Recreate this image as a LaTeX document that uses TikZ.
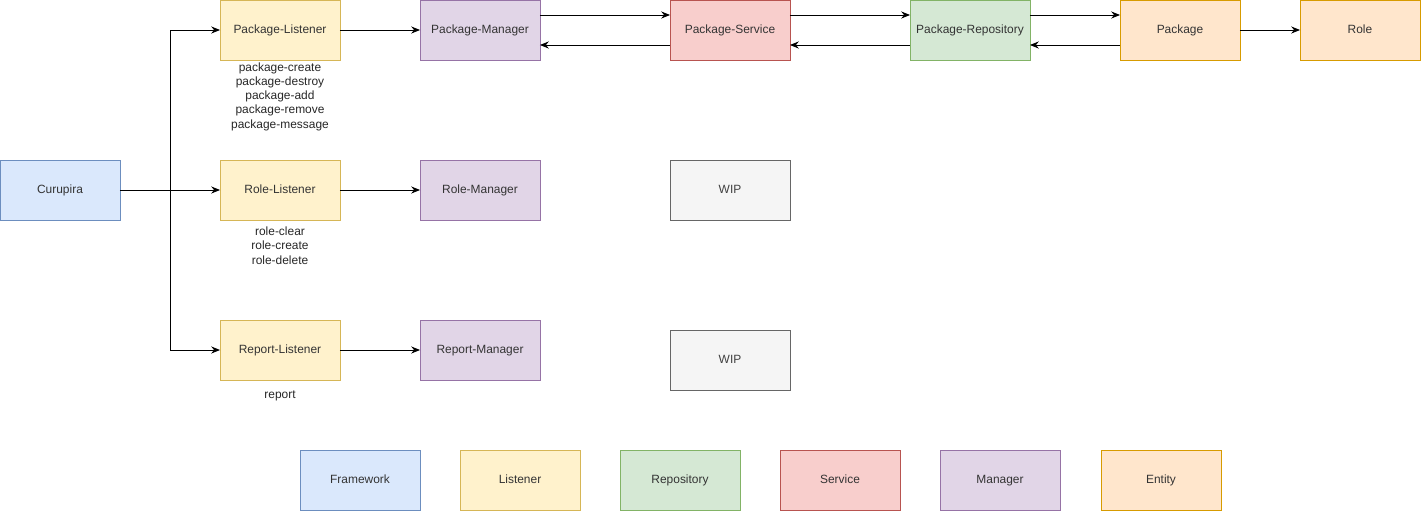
\documentclass[tikz,border=0pt]{standalone}
\usepackage{fontspec}
\setmainfont{Liberation Sans}
\usetikzlibrary{arrows.meta}

\definecolor{fwfill}{HTML}{DAE8FC}\definecolor{fwdraw}{HTML}{6C8EBF}
\definecolor{lsfill}{HTML}{FFF2CC}\definecolor{lsdraw}{HTML}{D6B656}
\definecolor{rpfill}{HTML}{D5E8D4}\definecolor{rpdraw}{HTML}{82B366}
\definecolor{svfill}{HTML}{F8CECC}\definecolor{svdraw}{HTML}{B85450}
\definecolor{mgfill}{HTML}{E1D5E7}\definecolor{mgdraw}{HTML}{9673A6}
\definecolor{enfill}{HTML}{FFE6CC}\definecolor{endraw}{HTML}{D79B00}
\definecolor{wpfill}{HTML}{F5F5F5}\definecolor{wpdraw}{HTML}{666666}

\tikzset{
    box/.style={draw, minimum width=2.4cm, minimum height=1.2cm, inner sep=0pt, outer sep=0pt,
        text height=1.6ex, text depth=0.8ex,
        font=\fontsize{6.8}{8}\selectfont, text=black!80},
    framework/.style={box, fill=fwfill, draw=fwdraw},
    listener/.style={box, fill=lsfill, draw=lsdraw},
    repository/.style={box, fill=rpfill, draw=rpdraw},
    service/.style={box, fill=svfill, draw=svdraw},
    manager/.style={box, fill=mgfill, draw=mgdraw},
    entity/.style={box, fill=enfill, draw=endraw},
    wip/.style={box, fill=wpfill, draw=wpdraw, text=black!75},
    events/.style={align=center, inner sep=0pt, font=\fontsize{6.8}{8.1}\selectfont, text=black!85},
    >={Stealth[length=5pt, width=4pt]}
}

\begin{document}
\begin{tikzpicture}[x=0.02cm, y=-0.02cm, line width=0.5pt]
                \useasboundingbox (0, 0) rectangle (1421, 511);

                \node[framework] (cur) at (60, 190) {Curupira};

                \node[listener] (pl) at (280, 30) {Package-Listener};
                \node[listener] (rl) at (280, 190) {Role-Listener};
                \node[listener] (rpl) at (280, 350) {Report-Listener};

                \node[events] (plev) at (280, 96.5) {package-create\\package-destroy\\package-add\\package-remove\\package-message};
                \node[events] (rlev) at (280, 245.5) {role-clear\\role-create\\role-delete};
                \node[events] (rplev) at (280, 396) {report};

                \node[manager] (pm) at (480, 30) {Package-Manager};
                \node[manager] (rm) at (480, 190) {Role-Manager};
                \node[manager] (rpm) at (480, 350) {Report-Manager};

                \node[service] (ps) at (730, 30) {Package-Service};
                \node[wip] (wip1) at (730, 190) {WIP};
                \node[wip] (wip2) at (730, 360) {WIP};

                \node[repository] (pr) at (970, 30) {Package-Repository};
                \node[entity] (pkg) at (1180, 30) {Package};
                \node[entity] (role) at (1360, 30) {Role};

                % legend
                \node[framework] (lgfw) at (360, 480) {Framework};
                \node[listener] (lgls) at (520, 480) {Listener};
                \node[repository] (lgrp) at (680, 480) {Repository};
                \node[service] (lgsv) at (840, 480) {Service};
                \node[manager] (lgmg) at (1000, 480) {Manager};
                \node[entity] (lgen) at (1161, 480) {Entity};

                \coordinate (split) at (170, 190);
                \draw[->] (cur) -- (rl);
                \draw[->] (split) |- (pl);
                \draw[->] (split) |- (rpl);

                \draw[->] (pl) -- (pm);
                \draw[->] (rl) -- (rm);
                \draw[->] (rpl) -- (rpm);

                \draw[->] ([yshift=0.3cm]pm.east) -- ([yshift=0.3cm]ps.west);
                \draw[->] ([yshift=-0.3cm]ps.west) -- ([yshift=-0.3cm]pm.east);
                \draw[->] ([yshift=0.3cm]ps.east) -- ([yshift=0.3cm]pr.west);
                \draw[->] ([yshift=-0.3cm]pr.west) -- ([yshift=-0.3cm]ps.east);
                \draw[->] ([yshift=0.3cm]pr.east) -- ([yshift=0.3cm]pkg.west);
                \draw[->] ([yshift=-0.3cm]pkg.west) -- ([yshift=-0.3cm]pr.east);
                \draw[->] (pkg) -- (role);
            \end{tikzpicture}
\end{document}
